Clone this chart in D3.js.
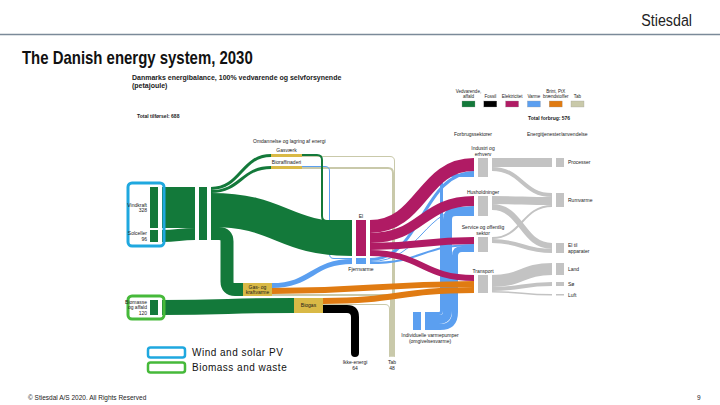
<!DOCTYPE html>
<html>
<head>
<meta charset="utf-8">
<script src="https://cdn.jsdelivr.net/npm/d3@7"></script>
<style>
  html, body { margin: 0; padding: 0; background: #fff; }
  svg { display: block; font-family: "Liberation Sans", Arial, sans-serif; }
</style>
</head>
<body>
<svg id="chart" width="720" height="405"></svg>
<script>
// ---- data (petajoule) ----
const legendKinds = ["vedvarende", "fossil", "el", "varme", "ptx", "tab"];
const legendLabels = ["Vedvarende,\naffald", "Fossil", "Elektricitet", "Varme", "Brint, PtX\nbrændstoffer", "Tab"];

const nodes = [
  ["vind", "Vindkraft"], ["sol", "Solceller"], ["biomasse", "Biomasse\nog affald"],
  ["samlet", ""], ["gasvaerk", "Gasværk"], ["bioraff", "Bioraffinaderi"],
  ["kraftvarme", "Gas- og\nkraftvarme"], ["biogas", "Biogas"],
  ["el", "El"], ["fjv", "Fjernvarme"], ["vp", "Individuelle varmepumper\n(omgivelsesvarme)"],
  ["fossil", "Ikke-energi"], ["tab", "Tab"],
  ["industri", "Industri og\nerhverv"], ["husholdninger", "Husholdninger"],
  ["service", "Service og offentlig\nsektor"], ["transport", "Transport"],
  ["processer", "Processer"], ["rumvarme", "Rumvarme"], ["apparater", "El til\napparater"],
  ["land", "Land"], ["soe", "Sø"], ["luft", "Luft"]
];

const flows = [
  ["vind", "samlet", 328, "vedvarende"],
  ["sol", "samlet", 96, "vedvarende"],
  ["biomasse", "biogas", 120, "vedvarende"],
  ["samlet", "gasvaerk", 24, "vedvarende"],
  ["samlet", "bioraff", 24, "vedvarende"],
  ["samlet", "el", 272, "vedvarende"],
  ["samlet", "kraftvarme", 104, "vedvarende"],
  ["gasvaerk", "el", 16, "vedvarende"],
  ["gasvaerk", "tab", 8, "tab"],
  ["bioraff", "fjv", 8, "varme"],
  ["bioraff", "tab", 16, "tab"],
  ["kraftvarme", "fjv", 40, "varme"],
  ["kraftvarme", "transport", 48, "ptx"],
  ["kraftvarme", "tab", 16, "tab"],
  ["biogas", "transport", 48, "ptx"],
  ["biogas", "tab", 8, "tab"],
  ["biogas", "fossil", 64, "fossil"],
  ["el", "industri", 104, "el"],
  ["el", "husholdninger", 80, "el"],
  ["el", "service", 56, "el"],
  ["el", "transport", 48, "el"],
  ["fjv", "industri", 24, "varme"],
  ["fjv", "husholdninger", 8, "varme"],
  ["fjv", "service", 16, "varme"],
  ["vp", "industri", 24, "varme"],
  ["vp", "husholdninger", 72, "varme"],
  ["vp", "service", 48, "varme"],
  ["industri", "processer", 72, "forbrug"],
  ["industri", "rumvarme", 32, "forbrug"],
  ["husholdninger", "rumvarme", 64, "forbrug"],
  ["husholdninger", "apparater", 48, "forbrug"],
  ["service", "rumvarme", 16, "forbrug"],
  ["service", "apparater", 32, "forbrug"],
  ["transport", "land", 96, "forbrug"],
  ["transport", "soe", 32, "forbrug"],
  ["transport", "luft", 12, "forbrug"]
];

// ---- layout & style ----
const columns = ["kilde", "samling", "kraftvarme", "omdannelse", "biogas", "fossil", "el", "tab", "varmepumpe", "sektor", "anvendelse"];
const x = d3.scaleOrdinal().domain(columns).range([150, 199, 243, 271, 294, 351, 356, 389, 413, 478, 556]);
const y = d3.scaleLinear().domain([0, 1600]).range([150, 350]);
const thick = v => y(v) - y(0);

// column, vertical offset (PJ), shape
const place = {
  vind: ["kilde", 296, "bar"], sol: ["kilde", 640, "bar"], biomasse: ["kilde", 1200, "bar"],
  samlet: ["samling", 296, "bar"],
  gasvaerk: ["omdannelse", 32, "strip"], bioraff: ["omdannelse", 128, "strip"],
  kraftvarme: ["kraftvarme", 1064, "box"], biogas: ["biogas", 1184, "box"],
  el: ["el", 560, "wide"], fjv: ["el", 864, "wide"], vp: ["varmepumpe", 1296, "bar"],
  fossil: ["fossil", 1656, "sink"], tab: ["tab", 1656, "sink"],
  industri: ["sektor", 64, "wide"], husholdninger: ["sektor", 368, "wide"],
  service: ["sektor", 696, "wide"], transport: ["sektor", 1000, "wide"],
  processer: ["anvendelse", 64, "bar"], rumvarme: ["anvendelse", 344, "bar"], apparater: ["anvendelse", 744, "bar"],
  land: ["anvendelse", 904, "bar"], soe: ["anvendelse", 1056, "bar"], luft: ["anvendelse", 1152, "bar"]
};
const shapeWidth = {bar: 8, wide: 10, strip: 31, box: 29, sink: 0};
const shapeGap = {bar: 4, wide: 4, strip: 0, box: 0, sink: 0};

const routes = {
  "samlet>kraftvarme": {type: "elbow", at: 0.5},
  "gasvaerk>el": {type: "elbow", at: 0.4},
  "bioraff>fjv": {type: "elbow", at: 0.55},
  "vp>industri": {type: "channel"},
  "vp>husholdninger": {type: "channel"},
  "vp>service": {type: "channel"}
};

const color = {
  vedvarende: "#13793a", fossil: "#000000", el: "#b01b64", varme: "#5b9ff0",
  ptx: "#e07b12", tab: "#c9c9aa", forbrug: "#c3c3c3", omdannelse: "#d9b946"
};
const nodeColor = {
  vind: "vedvarende", sol: "vedvarende", biomasse: "vedvarende", samlet: "vedvarende",
  gasvaerk: "omdannelse", bioraff: "omdannelse", kraftvarme: "omdannelse", biogas: "omdannelse",
  el: "el", fjv: "varme", vp: "varme"
};
const labelPos = {
  vind: {pos: "left", value: true}, sol: {pos: "left", value: true}, biomasse: {pos: "left", value: true},
  gasvaerk: {pos: "above"}, bioraff: {pos: "above"}, kraftvarme: {pos: "inside"}, biogas: {pos: "inside"},
  el: {pos: "above"}, fjv: {pos: "below"}, vp: {pos: "below", dx: 13},
  fossil: {pos: "below", value: true}, tab: {pos: "below", value: true},
  industri: {pos: "above"}, husholdninger: {pos: "above"}, service: {pos: "above"}, transport: {pos: "above"},
  processer: {pos: "right"}, rumvarme: {pos: "right"}, apparater: {pos: "right"},
  land: {pos: "right"}, soe: {pos: "right"}, luft: {pos: "right"}
};
const drawOrder = ["tab", "forbrug", "varme", "vedvarende", "el", "ptx", "fossil"];

// ---- build graph ----
const N = new Map(nodes.map(([id, label]) => [id, {id, label, ins: [], outs: []}]));
const L = flows.map(([s, t, v, kind]) => ({source: N.get(s), target: N.get(t), value: v, kind}));
L.forEach(l => { l.source.outs.push(l); l.target.ins.push(l); });

N.forEach(n => {
  const [col, at, shape] = place[n.id];
  n.shape = shape;
  n.value = Math.max(d3.sum(n.ins, l => l.value), d3.sum(n.outs, l => l.value));
  n.x0 = x(col);
  n.y0 = y(at);
  if (shape === "sink") {
    n.x1 = n.x0 + thick(n.value);
    n.y1 = n.y0;
  } else {
    n.x1 = n.x0 + shapeWidth[shape];
    n.y1 = n.y0 + thick(n.value);
  }
  n.cy = (n.y0 + n.y1) / 2;
  n.gap = shapeGap[shape];
});

N.forEach(n => {
  let acc = n.y0;
  n.outs.sort((a, b) => (a.target.cy - b.target.cy) || (b.target.x0 - a.target.x0))
    .forEach(l => { l.w = thick(l.value); l.sy = acc + l.w / 2; acc += l.w; });
});
N.forEach(n => {
  if (n.shape === "sink") {
    let ax = n.x0;
    n.ins.sort((a, b) => b.source.cy - a.source.cy)
      .forEach(l => { l.tx = ax + l.w / 2; ax += l.w; });
  } else {
    let ay = n.y0;
    n.ins.sort((a, b) => a.source.cy - b.source.cy)
      .forEach(l => { l.ty = ay + l.w / 2; ay += l.w; });
  }
  // shared vertical channel for links leaving one node upward
  const ch = n.outs.filter(l => (routes[n.id + ">" + l.target.id] || {}).type === "channel");
  if (ch.length) {
    const right = d3.min(ch, l => l.target.x0) - 20;
    let cx = right - d3.sum(ch, l => l.w);
    ch.forEach(l => { l.cx = cx + l.w / 2; cx += l.w; l.r1 = 1 + (l.sy - n.y0); });
  }
});

function rounded(pts, radii) {
  let d = `M${pts[0][0]},${pts[0][1]}`;
  for (let i = 1; i < pts.length - 1; i++) {
    const [ax, ay] = pts[i - 1], [bx, by] = pts[i], [cx, cy] = pts[i + 1];
    const l1 = Math.hypot(bx - ax, by - ay), l2 = Math.hypot(cx - bx, cy - by);
    const r = Math.max(0, Math.min(radii[i - 1], l1 / 2, l2 / 2));
    if (l1 === 0 || l2 === 0) { d += `L${bx},${by}`; continue; }
    const px = bx - (bx - ax) / l1 * r, py = by - (by - ay) / l1 * r;
    const qx = bx + (cx - bx) / l2 * r, qy = by + (cy - by) / l2 * r;
    d += `L${px},${py}Q${bx},${by} ${qx},${qy}`;
  }
  const last = pts[pts.length - 1];
  return d + `L${last[0]},${last[1]}`;
}

function linkPath(l) {
  const s = l.source, t = l.target;
  const x0 = s.x1 + s.gap, x1 = t.x0 - t.gap;
  const route = routes[s.id + ">" + t.id];
  // sinks are entered from above; the round cap ends exactly at the sink
  if (t.shape === "sink") return rounded([[x0, l.sy], [l.tx, l.sy], [l.tx, t.y0 - l.w / 2]], [l.w / 2 + 4]);
  if (route && route.type === "elbow") {
    const cx = x0 + (x1 - x0) * route.at;
    return rounded([[x0, l.sy], [cx, l.sy], [cx, l.ty], [x1, l.ty]], [l.w / 2 + 4, l.w / 2 + 4]);
  }
  if (route && route.type === "channel") {
    return rounded([[x0, l.sy], [l.cx, l.sy], [l.cx, l.ty], [x1, l.ty]], [l.r1, l.w / 2 + 4]);
  }
  const xm = (x0 + x1) / 2;
  return `M${x0},${l.sy}C${xm},${l.sy} ${xm},${l.ty} ${x1},${l.ty}`;
}

// ---- draw ----
const svg = d3.select("#chart");
const ink = "#1a1a1a";

function lines(g, text, x0, y0, anchor, lh, size) {
  const t = g.append("text").attr("x", x0).attr("y", y0)
    .attr("text-anchor", anchor).attr("font-size", size).attr("fill", ink);
  text.split("\n").forEach((s, i) => t.append("tspan").attr("x", x0).attr("dy", i ? lh : 0).text(s));
  return t;
}

// slide frame (condensed look via horizontal scaling)
svg.append("g").attr("transform", "translate(692,26) scale(0.84,1)")
  .append("text").attr("text-anchor", "end")
  .attr("font-size", 17).attr("fill", "#222").text("Stiesdal");
svg.append("line").attr("x1", 0).attr("x2", 720).attr("y1", 34.5).attr("y2", 34.5)
  .attr("stroke", "#7b8a99").attr("stroke-width", 1.5);
svg.append("g").attr("transform", "translate(22,64) scale(0.83,1)")
  .append("text").attr("font-weight", "bold").attr("font-size", 18).attr("fill", "#111")
  .text("The Danish energy system, 2030");
svg.append("text").attr("x", 28).attr("y", 400).attr("font-size", 6.5).attr("fill", "#222")
  .text("© Stiesdal A/S 2020. All Rights Reserved");
svg.append("text").attr("x", 697).attr("y", 400).attr("font-size", 6.5).attr("fill", "#222").text("9");

// inner figure headings
const fig = svg.append("g");
lines(fig, "Danmarks energibalance, 100% vedvarende og selvforsynende\n(petajoule)", 132, 80, "start", 8, 7)
  .attr("font-weight", "bold");
const supply = d3.sum(Array.from(N.values()).filter(n => !n.ins.length), n => n.value);
const demand = d3.sum(Array.from(N.values()).filter(n => place[n.id][0] === "sektor"), n => n.value);
fig.append("text").attr("x", 137).attr("y", 118).attr("font-size", 5).attr("font-weight", "bold")
  .attr("fill", ink).text("Total tilførsel: " + supply);
fig.append("text").attr("x", 528).attr("y", 120).attr("font-size", 5).attr("font-weight", "bold")
  .attr("fill", ink).text("Total forbrug: " + demand);
fig.append("text").attr("x", 253).attr("y", 143).attr("font-size", 5).attr("fill", ink)
  .text("Omdannelse og lagring af energi");
fig.append("text").attr("x", 473).attr("y", 136).attr("text-anchor", "middle").attr("font-size", 5)
  .attr("fill", ink).text("Forbrugssektorer");
fig.append("text").attr("x", 527).attr("y", 136).attr("font-size", 5).attr("fill", ink)
  .text("Energitjenester/anvendelse");

// legend swatches
const lx = d3.scalePoint().domain(legendKinds).range([462, 571]);
legendKinds.forEach((k, i) => {
  fig.append("rect").attr("x", lx(k)).attr("y", 101).attr("width", 13).attr("height", 6)
    .attr("fill", color[k]).attr("stroke", "#999").attr("stroke-width", 0.3);
  const n = legendLabels[i].split("\n").length;
  lines(fig, legendLabels[i], lx(k) + 6.5, 98 - (n - 1) * 5, "middle", 5, 4.5);
});

// links
const linkG = fig.append("g").attr("fill", "none");
linkG.selectAll("path")
  .data(L.slice().sort((a, b) => drawOrder.indexOf(a.kind) - drawOrder.indexOf(b.kind)))
  .join("path")
  .attr("d", linkPath)
  .attr("stroke", l => color[l.kind])
  .attr("stroke-width", l => l.w)
  .attr("stroke-linecap", l => l.target.shape === "sink" ? "round" : "butt");

// nodes
const nodeList = Array.from(N.values()).filter(n => n.shape !== "sink");
fig.append("g").selectAll("rect").data(nodeList).join("rect")
  .attr("x", n => n.x0).attr("y", n => n.y0)
  .attr("width", n => n.x1 - n.x0).attr("height", n => n.y1 - n.y0)
  .attr("fill", n => color[nodeColor[n.id] || "forbrug"]);

// outline boxes around source groups
const vind = N.get("vind"), sol = N.get("sol"), bio = N.get("biomasse");
fig.append("rect").attr("x", vind.x0 - 22).attr("y", vind.y0 - 4)
  .attr("width", vind.x1 - vind.x0 + 28).attr("height", sol.y1 - vind.y0 + 8)
  .attr("rx", 4).attr("fill", "none").attr("stroke", "#1fa8df").attr("stroke-width", 3);
fig.append("rect").attr("x", bio.x0 - 22).attr("y", bio.y0 - 4)
  .attr("width", bio.x1 - bio.x0 + 28).attr("height", bio.y1 - bio.y0 + 8)
  .attr("rx", 4).attr("fill", "none").attr("stroke", "#46b93a").attr("stroke-width", 3);

// node labels
const fs = 5, lh = 5.6;
N.forEach(n => {
  const p = labelPos[n.id];
  if (!p || !n.label) return;
  const text = p.value ? n.label + "\n" + n.value : n.label;
  const k = text.split("\n").length;
  const cx = (n.x0 + n.x1) / 2 + (p.dx || 0);
  if (p.pos === "left") lines(fig, text, n.x0 - 3, n.cy - (k - 1) * lh / 2 + 1.8, "end", lh, fs);
  else if (p.pos === "right") lines(fig, text, n.x1 + 4, n.cy - (k - 1) * lh / 2 + 1.8, "start", lh, fs);
  else if (p.pos === "above") lines(fig, text, cx, n.y0 - 2 - (k - 1) * lh, "middle", lh, fs);
  else if (p.pos === "below") lines(fig, text, cx, n.y1 + 7, "middle", lh, fs);
  else lines(fig, text, cx, n.cy - (k - 1) * lh / 2 + 1.8, "middle", lh, fs);
});

// slide legend
const legend = [["Wind and solar PV", "#1fa8df"], ["Biomass and waste", "#46b93a"]];
legend.forEach(([label, c], i) => {
  svg.append("rect").attr("x", 148).attr("y", 347.5 + i * 15).attr("width", 37).attr("height", 10)
    .attr("rx", 2.5).attr("fill", "#fff").attr("stroke", c).attr("stroke-width", 2.5);
  svg.append("text").attr("x", 192).attr("y", 356 + i * 15).attr("font-size", 10)
    .attr("letter-spacing", 0.5).attr("fill", "#111").text(label);
});
</script>
</body>
</html>
